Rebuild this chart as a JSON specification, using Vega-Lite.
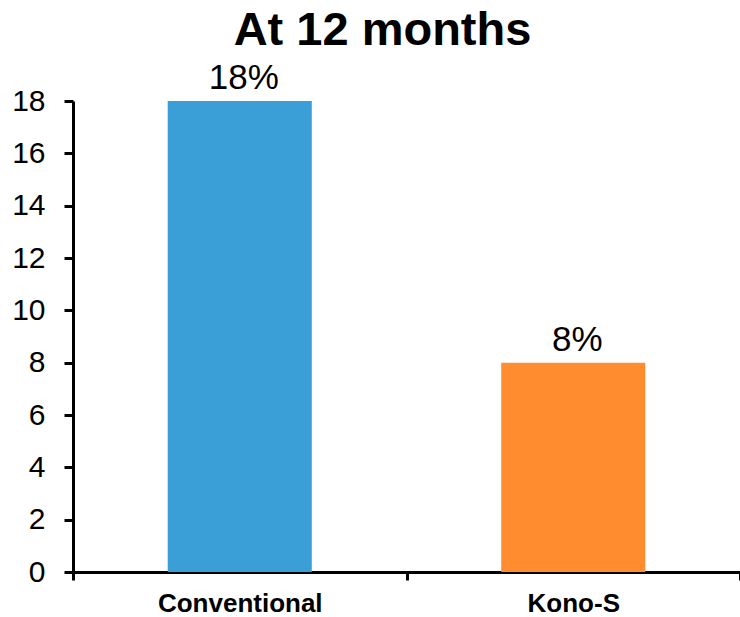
{
  "$schema": "https://vega.github.io/schema/vega-lite/v6.json",
  "width": 667,
  "height": 471,
  "autosize": {"type": "none"},
  "padding": {"left": 73, "top": 101, "right": 0, "bottom": 45},
  "background": "white",
  "title": {
    "text": "At 12 months",
    "font": "Liberation Sans",
    "fontSize": 47,
    "fontWeight": "bold",
    "color": "black",
    "anchor": "middle",
    "dx": -24,
    "offset": 6
  },
  "data": {
    "values": [
      {"group": "Conventional", "rate": 18, "label": "18%"},
      {"group": "Kono-S", "rate": 8, "label": "8%"}
    ]
  },
  "encoding": {
    "x": {
      "field": "group",
      "type": "nominal",
      "sort": null,
      "title": null,
      "scale": {"paddingInner": 0, "paddingOuter": 0},
      "axis": {
        "tickBand": "extent",
        "domainColor": "black",
        "domainWidth": 3,
        "tickColor": "black",
        "tickWidth": 3,
        "tickSize": 8,
        "labelAngle": 0,
        "labelFont": "Liberation Sans",
        "labelFontSize": 26,
        "labelFontWeight": "bold",
        "labelColor": "black",
        "labelPadding": 10
      }
    },
    "y": {
      "field": "rate",
      "type": "quantitative",
      "title": null,
      "scale": {"domain": [0, 18], "nice": false},
      "axis": {
        "values": [0, 2, 4, 6, 8, 10, 12, 14, 16, 18],
        "grid": false,
        "domainColor": "black",
        "domainWidth": 3,
        "tickColor": "black",
        "tickWidth": 3,
        "tickSize": 9,
        "labelFont": "Liberation Sans",
        "labelFontSize": 30,
        "labelColor": "black",
        "labelPadding": 19
      }
    }
  },
  "layer": [
    {
      "mark": {"type": "bar", "width": {"band": 0.432}},
      "encoding": {
        "color": {
          "field": "group",
          "type": "nominal",
          "legend": null,
          "scale": {"domain": ["Conventional", "Kono-S"], "range": ["#3A9ED7", "#FF8C2F"]}
        }
      }
    },
    {
      "mark": {
        "type": "text",
        "baseline": "alphabetic",
        "dy": -12,
        "dx": 4,
        "font": "Liberation Sans",
        "fontSize": 35,
        "color": "black"
      },
      "encoding": {"text": {"field": "label"}}
    }
  ],
  "config": {"view": {"stroke": null}}
}
